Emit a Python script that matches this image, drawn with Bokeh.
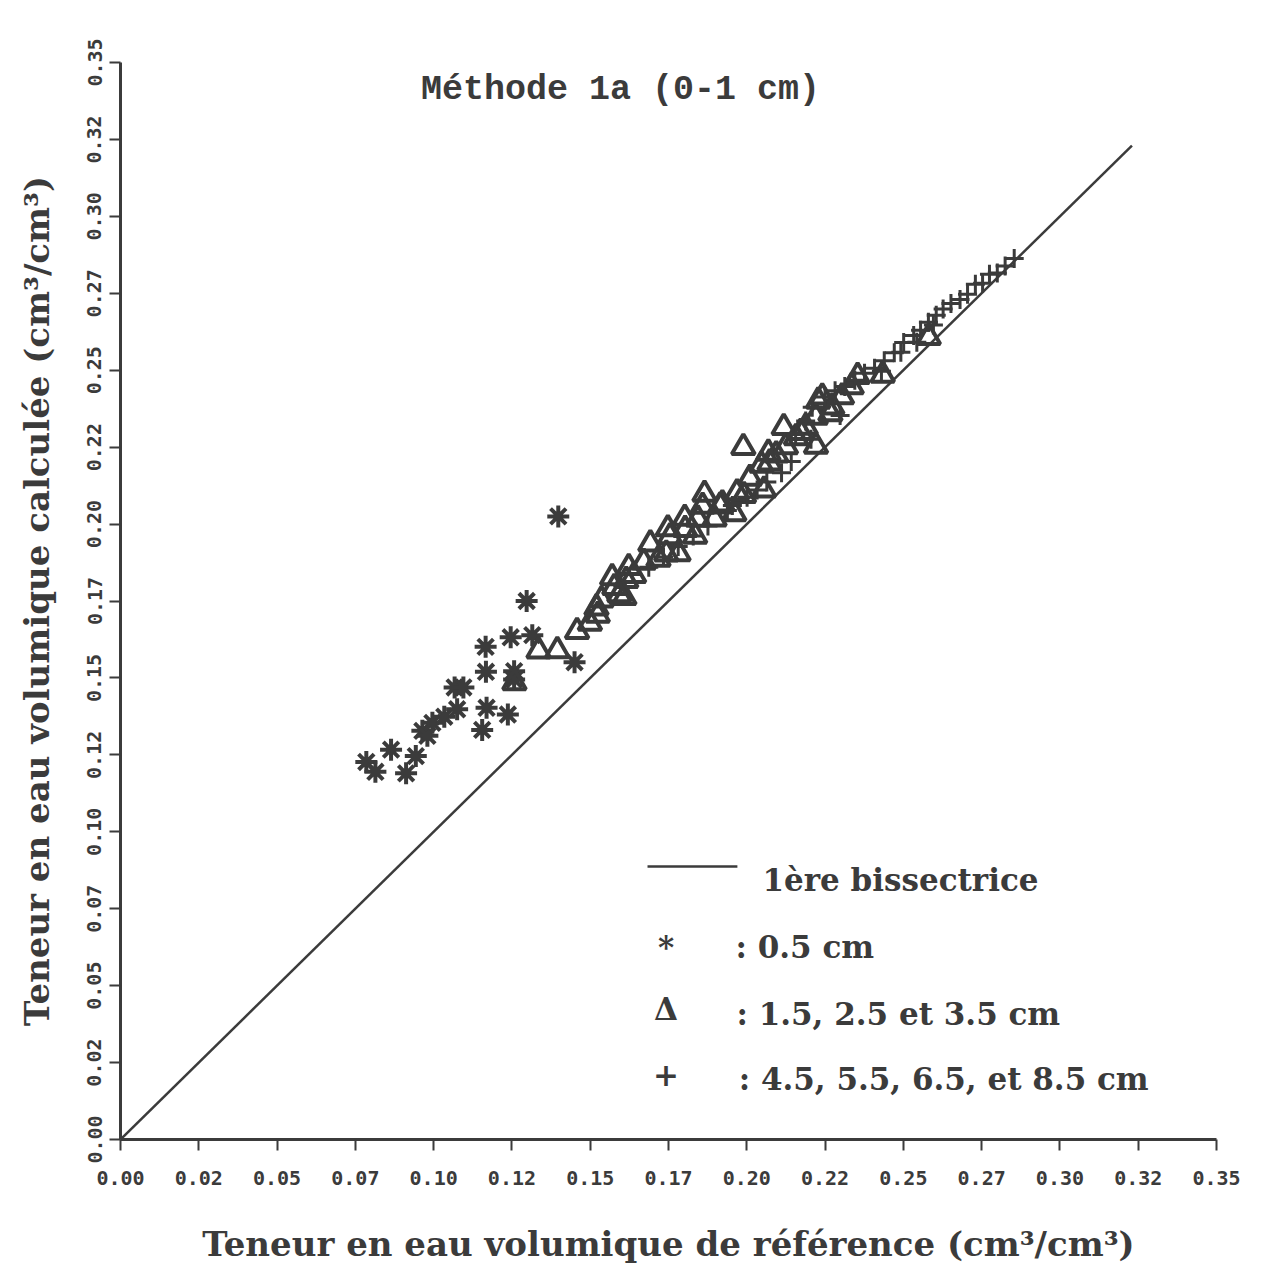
from bokeh.plotting import figure
from bokeh.models import Range1d, FixedTicker, Label
from bokeh.embed import file_html
from bokeh.resources import INLINE

# ---------------- data ----------------
tick_values = [0.0, 0.025, 0.05, 0.075, 0.10, 0.125, 0.15, 0.175, 0.20,
               0.225, 0.25, 0.275, 0.30, 0.325, 0.35]
tick_labels = ["0.00", "0.02", "0.05", "0.07", "0.10", "0.12", "0.15", "0.17",
               "0.20", "0.22", "0.25", "0.27", "0.30", "0.32", "0.35"]

bisector_x = [0.0, 0.323]
bisector_y = [0.0, 0.323]

# * : 0.5 cm
star_x = [0.0785, 0.0814, 0.0864, 0.0912, 0.0943, 0.0964, 0.0980, 0.0996,
          0.1034, 0.1075, 0.1067, 0.1095, 0.1155, 0.1169, 0.1167, 0.1166,
          0.1237, 0.1246, 0.1257, 0.1257, 0.1297, 0.1315, 0.1398, 0.1450]
star_y = [0.1227, 0.1195, 0.1267, 0.1190, 0.1246, 0.1328, 0.1312, 0.1354,
          0.1374, 0.1398, 0.1469, 0.1469, 0.1331, 0.1403, 0.1520, 0.1601,
          0.1381, 0.1632, 0.1522, 0.1495, 0.1750, 0.1639, 0.2025, 0.1551]

# Δ : 1.5, 2.5 et 3.5 cm
tri_x = [0.1258, 0.1335, 0.1395, 0.1458, 0.1499, 0.1524, 0.1593, 0.1615,
         0.1623, 0.1865, 0.1802, 0.1748, 0.1692, 0.1755, 0.1743, 0.1782,
         0.1718, 0.1640, 0.1570, 0.1609, 0.1520, 0.1803, 0.1844, 0.1915,
         0.1960, 0.1991, 0.2055, 0.1897, 0.1835, 0.1989, 0.2118, 0.2241,
         0.2069, 0.2047, 0.2073, 0.2125, 0.2157, 0.2220, 0.2273, 0.2221,
         0.1922, 0.1969, 0.2010, 0.2188, 0.2335, 0.2304, 0.2354, 0.2228,
         0.2434, 0.2581, 0.1859, 0.1671, 0.1577, 0.1536, 0.2094, 0.2172,
         0.2267]
tri_y = [0.1485, 0.1588, 0.1589, 0.1651, 0.1678, 0.1704, 0.1771, 0.1817,
         0.1859, 0.2097, 0.2019, 0.1985, 0.1936, 0.1959, 0.1903, 0.1904,
         0.1886, 0.1833, 0.1826, 0.1762, 0.1728, 0.1983, 0.2016, 0.2059,
         0.2034, 0.2093, 0.2111, 0.2017, 0.1961, 0.2249, 0.2314, 0.2413,
         0.2231, 0.2192, 0.2199, 0.2252, 0.2281, 0.2348, 0.2381, 0.2253,
         0.2066, 0.2102, 0.2149, 0.2315, 0.2447, 0.2414, 0.2480, 0.2400,
         0.2484, 0.2607, 0.2058, 0.1876, 0.1794, 0.1754, 0.2225, 0.2298,
         0.2359]

# + : 4.5, 5.5, 6.5 et 8.5 cm
plus_x = [0.2854, 0.2825, 0.2800, 0.2775, 0.2753, 0.2730, 0.2705, 0.2681,
          0.2652, 0.2627, 0.2605, 0.2580, 0.2555, 0.2533, 0.2501, 0.2471,
          0.2439, 0.2408, 0.2376, 0.2345, 0.2596, 0.2543, 0.2492, 0.2430,
          0.2313, 0.2282, 0.2250, 0.2209, 0.2188, 0.2156, 0.1781, 0.1829,
          0.1876, 0.1938, 0.2001, 0.2064, 0.2111, 0.2142, 0.2205, 0.2298,
          0.1734, 0.1687, 0.2033, 0.1954]
plus_y = [0.2863, 0.2839, 0.2816, 0.2812, 0.2783, 0.2779, 0.2747, 0.2730,
          0.2717, 0.2699, 0.2679, 0.2656, 0.2630, 0.2613, 0.2590, 0.2557,
          0.2531, 0.2506, 0.2490, 0.2467, 0.2647, 0.2591, 0.2558, 0.2497,
          0.2447, 0.2433, 0.2413, 0.2380, 0.2335, 0.2291, 0.1927, 0.1961,
          0.1994, 0.2044, 0.2087, 0.2137, 0.2167, 0.2203, 0.2276, 0.2353,
          0.1893, 0.1860, 0.2111, 0.2060]

title_text = "Méthode 1a (0-1 cm)"
x_title = "Teneur en eau volumique de référence (cm³/cm³)"
y_title = "Teneur en eau volumique calculée (cm³/cm³)"
legend_line_label = "1ère bissectrice"
legend_symbols = ["*", "Δ", "+"]
legend_labels = [": 0.5 cm", ": 1.5, 2.5 et 3.5 cm", ": 4.5, 5.5, 6.5, et 8.5 cm"]

# ---------------- style ----------------
INK = "#3b3b3b"
SERIF = "DejaVu Serif"
MONO = "DejaVu Sans Mono"

p = figure(width=1256, height=1266,
           x_range=Range1d(0, 0.35), y_range=Range1d(0, 0.35),
           output_backend="svg", toolbar_location=None,
           min_border_left=120, min_border_right=40,
           min_border_top=62, min_border_bottom=123,
           background_fill_color="white", border_fill_color="white")
p.grid.visible = False
p.outline_line_color = None

overrides = dict(zip(tick_values, tick_labels))
for ax in (p.xaxis[0], p.yaxis[0]):
    ax.ticker = FixedTicker(ticks=tick_values)
    ax.major_label_overrides = overrides
    ax.minor_tick_line_color = None
    ax.axis_line_color = INK
    ax.axis_line_width = 3
    ax.major_tick_line_color = INK
    ax.major_tick_line_width = 2
    ax.major_tick_in = 0
    ax.major_tick_out = 11
    ax.major_label_text_font = MONO
    ax.major_label_text_font_style = "bold"
    ax.major_label_text_font_size = "20px"
    ax.major_label_text_color = INK
    ax.axis_label_text_font = SERIF
    ax.axis_label_text_font_style = "bold"
    ax.axis_label_text_font_size = "34px"
    ax.axis_label_text_color = INK

p.xaxis.axis_label = x_title
p.yaxis.axis_label = y_title
p.xaxis.major_label_standoff = 20
p.xaxis.axis_label_standoff = 36
p.yaxis.major_label_standoff = 8
p.yaxis.major_label_orientation = "vertical"
p.yaxis.axis_label_standoff = 28

# bisector
p.line(bisector_x, bisector_y, line_color=INK, line_width=2.5)

# data markers
p.scatter(star_x, star_y, marker="asterisk", size=22, line_color=INK, line_width=4)
p.scatter(tri_x, tri_y, marker="triangle", size=23, line_color=INK, line_width=4,
          fill_color=None)
p.scatter(plus_x, plus_y, marker="cross", size=19, line_color=INK, line_width=3)

# title inside the frame
p.add_layout(Label(x=0.1597, y=0.341, text=title_text, text_align="center",
                   text_baseline="middle", text_font="Liberation Mono",
                   text_font_style="bold", text_font_size="35px", text_color=INK))

# legend (drawn by hand, as in the original)
LEG_FS = "31px"
p.line([0.1683, 0.1970], [0.0887, 0.0887], line_color=INK, line_width=2.5)
p.add_layout(Label(x=0.2050, y=0.0842, text=legend_line_label, text_align="left",
                   text_baseline="alphabetic", text_font=SERIF,
                   text_font_style="bold", text_font_size=LEG_FS, text_color=INK))
sym_y = [0.0625, 0.0424, 0.0210]
lab_y = [0.0625, 0.0408, 0.0198]
lab_x = [0.1964, 0.1967, 0.1974]
for s, l, sy, ly, lx in zip(legend_symbols, legend_labels, sym_y, lab_y, lab_x):
    p.add_layout(Label(x=0.1742, y=sy, text=s, text_align="center",
                       text_baseline="alphabetic", text_font=SERIF,
                       text_font_style="bold", text_font_size=LEG_FS, text_color=INK))
    p.add_layout(Label(x=lx, y=ly, text=l, text_align="left",
                       text_baseline="alphabetic", text_font=SERIF,
                       text_font_style="bold", text_font_size=LEG_FS, text_color=INK))

open("out.html", "w").write(file_html(p, INLINE))
